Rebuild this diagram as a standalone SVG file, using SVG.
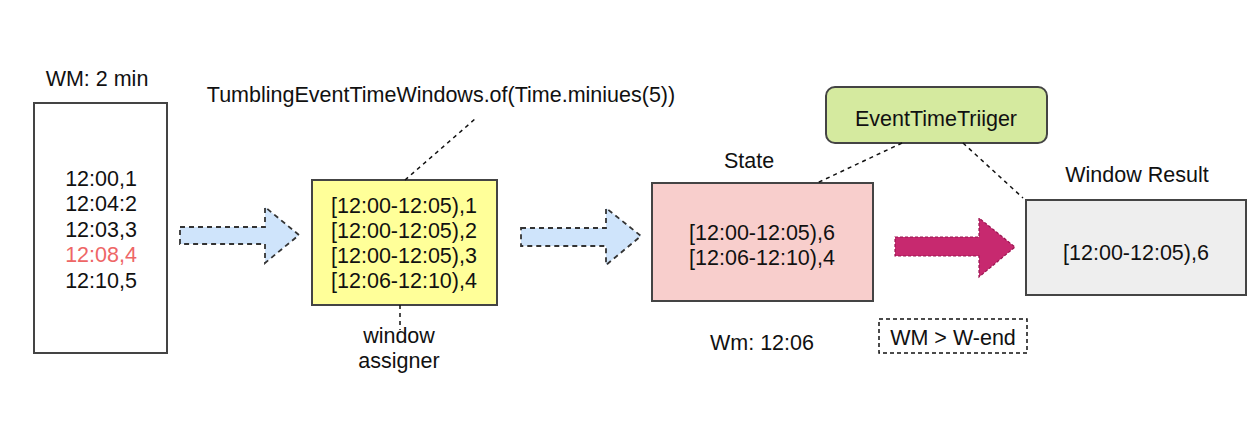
<svg xmlns="http://www.w3.org/2000/svg" width="1254" height="430" viewBox="0 0 1254 430">
<style>
text{font-family:"Liberation Sans",Arial,sans-serif;font-size:21.5px;fill:#111;text-anchor:middle}
.box{stroke:#444;stroke-width:2}
.dot{stroke:#111;stroke-width:1.5;stroke-dasharray:4 4;fill:none}
.barrow{fill:#cfe4fb;stroke:#333;stroke-width:1.8;stroke-dasharray:5 4}
.marrow{fill:#c7296f;stroke:#9a1550;stroke-width:1.2;stroke-dasharray:3 2}
</style>
<rect width="1254" height="430" fill="#fff"/>
<g id="input">
<text x="97" y="86">WM: 2 min</text>
<rect class="box" x="34" y="103" width="133" height="250" fill="#fff"/>
<text x="101" y="186">12:00,1</text>
<text x="101" y="211">12:04:2</text>
<text x="101" y="237">12:03,3</text>
<text x="101" y="262" style="fill:#ee6666">12:08,4</text>
<text x="101" y="288">12:10,5</text>
</g>
<g id="assigner">
<text x="441" y="102">TumblingEventTimeWindows.of(Time.miniues(5))</text>
<rect class="box" x="312" y="180" width="185" height="125" fill="#ffff99"/>
<text x="404" y="213">[12:00-12:05),1</text>
<text x="404" y="238">[12:00-12:05),2</text>
<text x="404" y="263">[12:00-12:05),3</text>
<text x="404" y="288">[12:06-12:10),4</text>
<text x="399" y="343">window</text>
<text x="399" y="368">assigner</text>
</g>
<g id="state">
<text x="749" y="168">State</text>
<rect class="box" x="652" y="183" width="221" height="118" fill="#f8cecc"/>
<text x="762" y="240">[12:00-12:05),6</text>
<text x="762" y="265">[12:06-12:10),4</text>
<text x="762" y="350">Wm: 12:06</text>
</g>
<g id="trigger">
<rect class="box" x="826" y="87" width="221" height="56" rx="9" fill="#d5ea9f"/>
<text x="936" y="126">EventTimeTriiger</text>
</g>
<g id="result">
<text x="1137" y="182">Window Result</text>
<rect class="box" x="1026" y="200" width="220" height="95" fill="#eeeeee"/>
<text x="1136" y="260">[12:00-12:05),6</text>
</g>
<g id="condition">
<rect x="879" y="319" width="148" height="34" fill="none" stroke="#111" stroke-width="1.5" stroke-dasharray="4 3"/>
<text x="953" y="345">WM &gt; W-end</text>
</g>
<g id="connectors">
<line class="dot" x1="405" y1="180" x2="475" y2="119"/>
<line class="dot" x1="400" y1="305" x2="400" y2="330"/>
<line class="dot" x1="902" y1="143" x2="817" y2="183"/>
<line class="dot" x1="963" y1="143" x2="1023" y2="198"/>
<path class="barrow" d="M180 227 H265 V207 L299 235 L265 263 V244 H180 Z"/>
<path class="barrow" d="M521 228 H606 V208 L641 236 L606 265 V246 H521 Z"/>
<path class="marrow" d="M895 237 H979 V218 L1015 247 L979 277 V256 H895 Z"/>
</g>
</svg>
